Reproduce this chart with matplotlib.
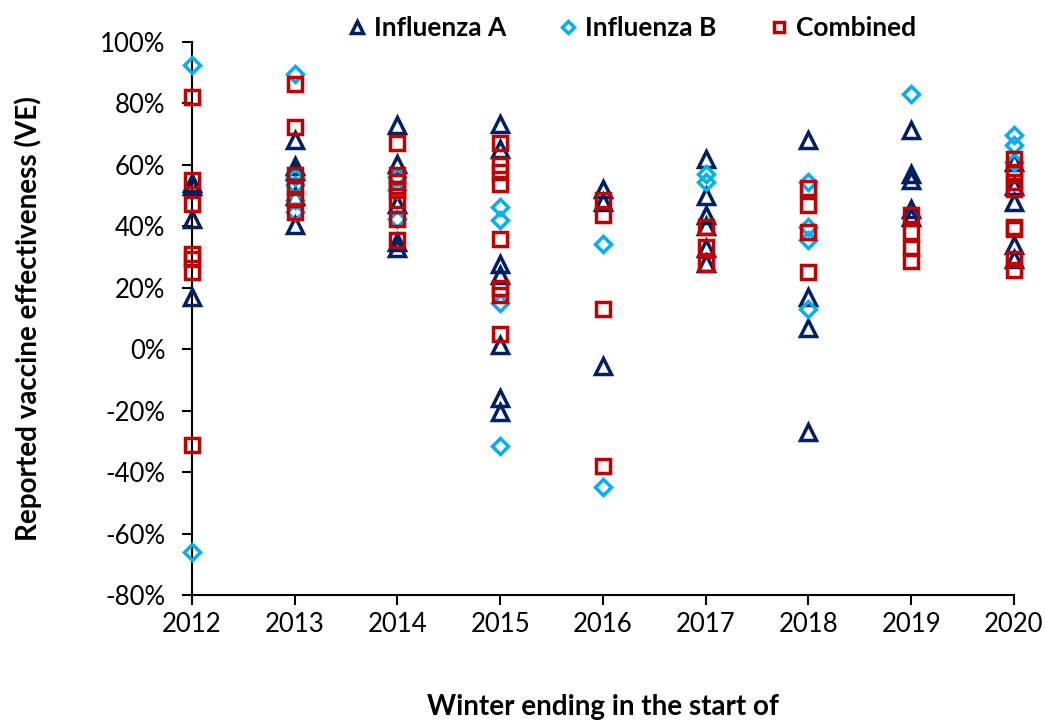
import numpy as np
import matplotlib
matplotlib.use("Agg")
import matplotlib.pyplot as plt
from matplotlib.ticker import FuncFormatter

plt.rcParams["font.family"] = ["Lato", "DejaVu Sans"]

# reported VE (%) per winter
flu_a = {
    2012: [54, 53, 42.5, 17],
    2013: [68, 59.5, 58, 50, 40.5],
    2014: [73, 60.4, 47.4, 35, 33],
    2015: [73.4, 65.3, 27.9, 24.1, 1.3, -16, -20.4],
    2016: [52.3, 48, -5.5],
    2017: [62, 50, 43.6, 40, 33, 28],
    2018: [68, 17, 7, -27],
    2019: [71.3, 57.2, 55, 45.8, 43],
    2020: [61, 48, 34, 29.5, 53],
}
flu_b = {
    2012: [92.4, -66],
    2013: [89.7, 56, 53.4, 48.5, 44.7],
    2014: [56, 51.7, 42.5],
    2015: [46.3, 42, 14.9, -31.6],
    2016: [34.2, -45],
    2017: [57.2, 54.5],
    2018: [54.5, 39.8, 35.5, 13],
    2019: [83.2],
    2020: [69.7, 66.4, 61],
}
combined = {
    2012: [82, 55.2, 47.2, 31.1, 29.5, 25.2, -31.2],
    2013: [86.3, 72.2, 56.6, 52.8, 49, 44.7],
    2014: [67, 56.6, 54.5, 51.7, 48.5, 42.5, 35.5],
    2015: [67.2, 59.9, 57.7, 53.9, 36, 19.8, 17.6, 5.1],
    2016: [48.5, 43.6, 13, -38],
    2017: [39.8, 33.3, 27.9],
    2018: [52.6, 47.1, 38.2, 25.2],
    2019: [43.6, 38.2, 32.8, 28.6],
    2020: [62, 57.8, 54.5, 52.3, 39.8, 39, 29.5, 25.7],
}

c_a, c_b, c_comb = "#002060", "#00B0F0", "#C00000"


def flatten(d):
    xs, ys = [], []
    for yr, vals in d.items():
        xs += [yr] * len(vals)
        ys += vals
    return np.array(xs), np.array(ys)


fig = plt.figure(figsize=(10.45, 7.22), dpi=100)
ax = fig.add_axes([0.1837, 0.1759, 0.7866, 0.7659])

for d, mk, col, ms, lbl in [
    (flu_a, "^", c_a, 11, "Influenza A"),
    (flu_b, "D", c_b, 8, "Influenza B"),
    (combined, "s", c_comb, 10.5, "Combined"),
]:
    xs, ys = flatten(d)
    ax.plot(xs, ys, linestyle="none", marker=mk, markersize=ms,
            markerfacecolor="none", markeredgecolor=col,
            markeredgewidth=2.5, label=lbl, clip_on=False, zorder=3)

ax.set_xlim(2012, 2020)
ax.set_ylim(-80, 100)
ax.set_xticks(range(2012, 2021))
ax.set_yticks(range(-80, 101, 20))
ax.yaxis.set_major_formatter(FuncFormatter(lambda v, p: f"{v:.0f}%"))
ax.tick_params(axis="both", labelsize=18.5, length=7, width=1.5, direction="out")
ax.tick_params(axis="x", pad=5)
ax.tick_params(axis="y", pad=12)

for s in ["top", "right"]:
    ax.spines[s].set_visible(False)
for s in ["left", "bottom"]:
    ax.spines[s].set_linewidth(1.5)

ax.set_ylabel("Reported vaccine effectiveness (VE)", fontsize=20,
              fontweight="bold", labelpad=42)
ax.set_xlabel("Winter ending in the start of", fontsize=20,
              fontweight="bold", labelpad=41)

leg = ax.legend(loc="lower center", bbox_to_anchor=(0.535, 0.975), ncol=3,
                frameon=False, fontsize=19, markerscale=0.75,
                handlelength=0.7, handletextpad=0.3, columnspacing=2.0,
                borderpad=0.1)
for t in leg.get_texts():
    t.set_fontweight("bold")

fig.savefig("out.png", dpi=100)
